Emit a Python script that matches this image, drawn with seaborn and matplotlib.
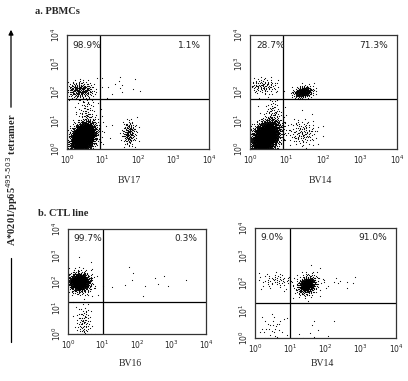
import numpy as np
import pandas as pd
import matplotlib
matplotlib.use("Agg")
import matplotlib.pyplot as plt
import seaborn as sns
from matplotlib.ticker import LogLocator

# populations per panel, in log10 units (centre, spread, correlation, events)
pbmc_bv17_cx = [0.45, 0.37, 1.75, 0.55, 1.45, 0.50]
pbmc_bv17_cy = [0.42, 2.07, 0.56, 1.30, 2.20, 0.50]
pbmc_bv17_sx = [0.16, 0.20, 0.10, 0.12, 0.35, 0.30]
pbmc_bv17_sy = [0.24, 0.16, 0.22, 0.30, 0.25, 0.40]
pbmc_bv17_rho = [0.30, 0.0, 0.0, 0.0, 0.0, 0.2]
pbmc_bv17_n = [2500, 240, 160, 60, 14, 160]

pbmc_bv14_cx = [0.42, 0.33, 1.44, 1.44, 0.62, 0.50]
pbmc_bv14_cy = [0.42, 2.22, 2.00, 0.56, 1.25, 0.55]
pbmc_bv14_sx = [0.18, 0.22, 0.13, 0.20, 0.10, 0.30]
pbmc_bv14_sy = [0.27, 0.15, 0.10, 0.25, 0.30, 0.40]
pbmc_bv14_rho = [0.35, 0.0, 0.2, 0.0, 0.0, 0.2]
pbmc_bv14_n = [2500, 110, 300, 120, 60, 160]

ctl_bv16_cx = [0.33, 0.45, 2.30, 0.35]
ctl_bv16_cy = [1.98, 0.42, 2.00, 1.95]
ctl_bv16_sx = [0.15, 0.12, 0.80, 0.25]
ctl_bv16_sy = [0.17, 0.35, 0.25, 0.30]
ctl_bv16_rho = [0.0, 0.0, 0.0, 0.0]
ctl_bv16_n = [850, 90, 14, 80]

ctl_bv14_cx = [1.47, 0.62, 0.50, 2.30, 1.60, 1.50]
ctl_bv14_cy = [1.93, 2.10, 0.35, 2.05, 0.20, 1.90]
ctl_bv14_sx = [0.12, 0.30, 0.20, 0.40, 0.30, 0.22]
ctl_bv14_sy = [0.15, 0.15, 0.30, 0.15, 0.25, 0.28]
ctl_bv14_rho = [0.25, 0.0, 0.0, 0.0, 0.0, 0.2]
ctl_bv14_n = [500, 60, 30, 12, 10, 70]

# gates (linear values) and quadrant percentages
gate_x = [8.5, 8.0, 10.0, 10.0]
gate_y = [56.0, 56.0, 17.0, 18.5]
pct_left = ["98.9%", "28.7%", "99.7%", "9.0%"]
pct_right = ["1.1%", "71.3%", "0.3%", "91.0%"]
x_names = ["BV17", "BV14", "BV16", "BV14"]


def events(cx, cy, sx, sy, rho, n, tag):
    # deterministic low-discrepancy spread around each population centre
    g = 1.32471795724474602596
    rows = []
    for i in range(len(cx)):
        k = np.arange(1, n[i] + 1) + 97 * (i + 1) + 31 * tag
        u = (0.5 + k / g) % 1.0
        v = (0.5 + k / g ** 2) % 1.0
        r = np.sqrt(-2.0 * np.log(1.0 - 0.998 * u))
        z1 = r * np.cos(2 * np.pi * v)
        z2 = r * np.sin(2 * np.pi * v)
        lx = cx[i] + sx[i] * z1
        ly = cy[i] + sy[i] * (rho[i] * z1 + np.sqrt(1 - rho[i] ** 2) * z2)
        lx = np.clip(lx, 0.01, 3.99)
        ly = np.clip(ly, 0.01, 3.99)
        rows.append(pd.DataFrame({"x": 10 ** lx, "y": 10 ** ly}))
    return pd.concat(rows, ignore_index=True)


panels = [
    events(pbmc_bv17_cx, pbmc_bv17_cy, pbmc_bv17_sx, pbmc_bv17_sy, pbmc_bv17_rho, pbmc_bv17_n, 1),
    events(pbmc_bv14_cx, pbmc_bv14_cy, pbmc_bv14_sx, pbmc_bv14_sy, pbmc_bv14_rho, pbmc_bv14_n, 2),
    events(ctl_bv16_cx, ctl_bv16_cy, ctl_bv16_sx, ctl_bv16_sy, ctl_bv16_rho, ctl_bv16_n, 3),
    events(ctl_bv14_cx, ctl_bv14_cy, ctl_bv14_sx, ctl_bv14_sy, ctl_bv14_rho, ctl_bv14_n, 4),
]

sns.set_style("white")
plt.rcParams["font.family"] = ["DejaVu Sans"]

W, H = 408, 381
fig = plt.figure(figsize=(W / 100, H / 100), dpi=100)

# axes boxes in pixels: left, top, right, bottom
boxes = [(67, 35, 209, 149), (250, 35, 397, 149), (68, 229, 206, 334), (255, 228, 396, 338)]
label_pos = [(129, 180), (320, 180), (130, 363), (322, 363)]

for i, (df, box) in enumerate(zip(panels, boxes)):
    l, t, r, b = box
    ax = fig.add_axes([l / W, 1 - b / H, (r - l) / W, (b - t) / H])
    sns.scatterplot(data=df, x="x", y="y", ax=ax, s=0.7, marker="o",
                    color="black", linewidth=0, alpha=1.0, legend=False)
    ax.set_xscale("log")
    ax.set_yscale("log")
    ax.set_xlim(1, 1e4)
    ax.set_ylim(1, 1e4)
    ax.axvline(gate_x[i], color="black", lw=0.9)
    ax.axhline(gate_y[i], color="black", lw=0.9)
    ax.set_xlabel("")
    ax.set_ylabel("")
    ax.xaxis.set_major_locator(LogLocator(base=10, numticks=10))
    ax.yaxis.set_major_locator(LogLocator(base=10, numticks=10))
    ax.xaxis.set_minor_locator(LogLocator(base=10, subs=np.arange(2, 10), numticks=10))
    ax.yaxis.set_minor_locator(LogLocator(base=10, subs=np.arange(2, 10), numticks=10))
    ax.tick_params(axis="both", which="major", direction="out", length=2.5, width=0.6,
                   labelsize=5.5, pad=1, color="#333333")
    ax.tick_params(axis="both", which="minor", direction="out", length=1.5, width=0.4,
                   color="#555555")
    for lab in ax.get_yticklabels():
        lab.set_rotation(90)
        lab.set_va("center")
    for sp in ax.spines.values():
        sp.set_color("#333333")
        sp.set_linewidth(0.9)
    ax.text(0.04, 0.95, pct_left[i], transform=ax.transAxes, fontsize=6.5,
            ha="left", va="top", color="#222222")
    ax.text(0.94, 0.95, pct_right[i], transform=ax.transAxes, fontsize=6.5,
            ha="right", va="top", color="#222222")
    lx, ly = label_pos[i]
    fig.text(lx / W, 1 - ly / H, x_names[i], fontsize=7, family="Liberation Serif",
             ha="center", va="center")

fig.text(35 / W, 1 - 12 / H, "a. PBMCs", fontsize=7.5, family="Liberation Serif",
         weight="bold", ha="left", va="center")
fig.text(38 / W, 1 - 213 / H, "b. CTL line", fontsize=7.5, family="Liberation Serif",
         weight="bold", ha="left", va="center")

# vertical axis title with arrow
fig.text(12 / W, 1 - 180 / H, r"A*0201/pp65$^{495\text{-}503}$ tetramer", fontsize=7.5,
         family="Liberation Serif", weight="bold", rotation=90, ha="center", va="center")
fig.add_artist(matplotlib.patches.FancyArrowPatch(
    (11 / W, 1 - 110 / H), (11 / W, 1 - 27 / H), transform=fig.transFigure,
    arrowstyle="-|>", mutation_scale=7, lw=0.9, color="black"))
fig.add_artist(matplotlib.lines.Line2D([11 / W, 11 / W], [1 - 258 / H, 1 - 342 / H],
                                       transform=fig.transFigure, lw=0.9, color="black"))

fig.savefig("out.png", dpi=100)
